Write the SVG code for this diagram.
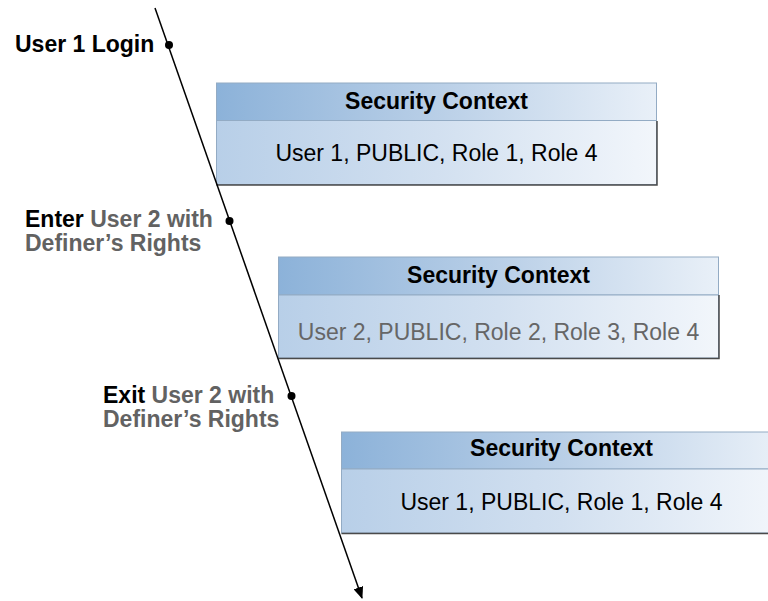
<svg xmlns="http://www.w3.org/2000/svg" width="768" height="601" viewBox="0 0 768 601">
<defs>
<linearGradient id="hdr" x1="0" y1="0" x2="1" y2="0">
<stop offset="0" stop-color="#8cb2d9"/>
<stop offset="0.5" stop-color="#b9cfe7"/>
<stop offset="1" stop-color="#e9f0f8"/>
</linearGradient>
<linearGradient id="bdy" x1="0" y1="0" x2="1" y2="0">
<stop offset="0" stop-color="#b8cfe8"/>
<stop offset="0.5" stop-color="#d2e0f0"/>
<stop offset="1" stop-color="#f2f6fb"/>
</linearGradient>
<marker id="arr" viewBox="0 0 12 10" refX="11" refY="5" markerWidth="12" markerHeight="10" markerUnits="userSpaceOnUse" orient="auto">
<path d="M0,0 L12,5 L0,10 z" fill="#000"/>
</marker>
<style>
.hdr{fill:url(#hdr);stroke:#93abc4;stroke-width:1}
.bdy{fill:url(#bdy);stroke:#93abc4;stroke-width:1}
.shadow{stroke:#4a4a4a;stroke-width:1.5;fill:none}
.ht{font-family:"Liberation Sans",Arial,sans-serif;font-weight:bold;font-size:23px;fill:#000;text-anchor:middle}
.bt{font-family:"Liberation Sans",Arial,sans-serif;font-size:23px;fill:#000;text-anchor:middle}
.grey{fill:#666}
.lbl{font-family:"Liberation Sans",Arial,sans-serif;font-weight:bold;font-size:23px;fill:#626262}
.blk{fill:#000}
.dot{fill:#000}
</style>
</defs>
<rect width="768" height="601" fill="#fff"/>

<g id="box1">
<rect class="hdr" x="216.5" y="83" width="440" height="37.5"/>
<rect class="bdy" x="216.5" y="120.5" width="440" height="64"/>
<path class="shadow" d="M216.5,185 H657 V121"/>
<text class="ht" x="436.5" y="109">Security Context</text>
<text class="bt" x="436.5" y="161">User 1, PUBLIC, Role 1, Role 4</text>
</g>

<g id="box2">
<rect class="hdr" x="278.5" y="257" width="440" height="38"/>
<rect class="bdy" x="278.5" y="295" width="440" height="63"/>
<path class="shadow" d="M278.5,358.5 H719 V295"/>
<text class="ht" x="498.5" y="283">Security Context</text>
<text class="bt grey" x="498.5" y="340">User 2, PUBLIC, Role 2, Role 3, Role 4</text>
</g>

<g id="box3">
<rect class="hdr" x="341.5" y="432" width="440" height="37"/>
<rect class="bdy" x="341.5" y="469" width="440" height="64"/>
<path class="shadow" d="M341.5,533.5 H782"/>
<text class="ht" x="561.5" y="456">Security Context</text>
<text class="bt" x="561.5" y="510">User 1, PUBLIC, Role 1, Role 4</text>
</g>

<g id="connectors">
<line x1="155" y1="8" x2="362" y2="598" stroke="#000" stroke-width="1.5" marker-end="url(#arr)"/>
</g>

<g id="event1">
<circle class="dot" cx="169" cy="45" r="4"/>
<text class="lbl blk" x="15" y="52">User 1 Login</text>
</g>

<g id="event2">
<circle class="dot" cx="229.5" cy="221" r="4"/>
<text class="lbl" x="25" y="227"><tspan class="blk">Enter</tspan> User 2 with</text>
<text class="lbl" x="25" y="251">Definer’s Rights</text>
</g>

<g id="event3">
<circle class="dot" cx="291.5" cy="396" r="4"/>
<text class="lbl" x="103" y="403"><tspan class="blk">Exit</tspan> User 2 with</text>
<text class="lbl" x="103" y="427">Definer’s Rights</text>
</g>
</svg>
